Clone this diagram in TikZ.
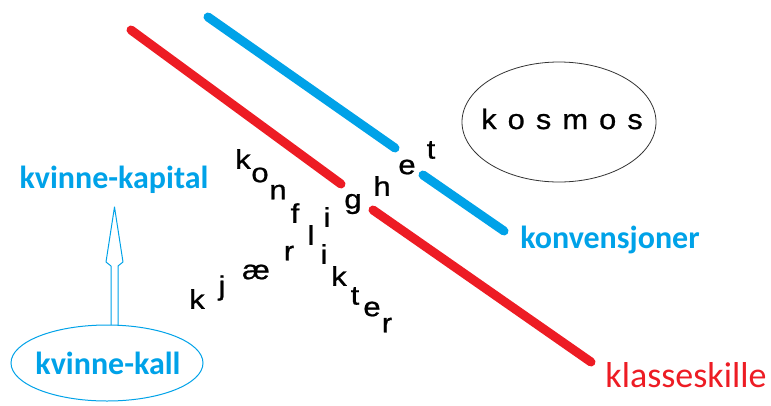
\documentclass[tikz,border=0pt]{standalone}
\usepackage{fontspec}
\setmainfont{Liberation Sans}
\newfontfamily\calibri{Carlito}
\newfontfamily\heavier[FakeBold=0.8]{Liberation Sans}
\definecolor{paintred}{HTML}{ED1C24}
\definecolor{paintblue}{HTML}{00A2E8}
\begin{document}
\begin{tikzpicture}[x=1pt,y=-1pt,
  bar/.style={line width=9pt,line cap=round},
  letter/.style={inner sep=0pt,xscale=1.15,font=\heavier\fontsize{27pt}{30pt}\selectfont},
  bluelabel/.style={inner sep=0pt,text=paintblue,font=\calibri\bfseries\fontsize{32pt}{34pt}\selectfont}]
\useasboundingbox (0,0) rectangle (771,405);

% class divide (red) and conventions (blue), each broken in two
\coordinate (r1) at (131,30);
\coordinate (r2) at (341,184);
\coordinate (r3) at (373,210);
\coordinate (r4) at (591,362);
\coordinate (b1) at (208,17);
\coordinate (b2) at (395,148);
\coordinate (b3) at (423,175);
\coordinate (b4) at (504,231);
\draw[bar,paintred] (r1) -- (r2);
\draw[bar,paintred] (r3) -- (r4);
\draw[bar,paintblue] (b1) -- (b2);
\draw[bar,paintblue] (b3) -- (b4);

% "konflikter" running down to the right
\node[letter] (c1) at (243,159) {k};
\node[letter] (c2) at (260,175) {o};
\node[letter] (c3) at (278,192) {n};
\node[letter] (c4) at (295,213) {f};
\node[letter] (c5) at (311,235) {l};
\node[letter] (c6) at (324,254) {i};
\node[letter] (c7) at (339,276) {k};
\node[letter] (c8) at (355,296) {t};
\node[letter] (c9) at (372,309) {e};
\node[letter] (c10) at (387,325) {r};

% "kjærlighet" running up to the right, sharing the l
\node[letter] (k1) at (197,299) {k};
\node[letter] (k2) at (222,288) {j};
\node[letter] (k3) at (256,272) {æ};
\node[letter] (k4) at (289,253) {r};
\node[letter] (k6) at (327,217) {i};
\node[letter] (k7) at (353,204) {g};
\node[letter] (k8) at (382,186) {h};
\node[letter] (k9) at (407,167) {e};
\node[letter] (k10) at (431,150) {t};

% kosmos
\draw[black!80,line width=0.8pt] (559,122) ellipse [x radius=97,y radius=60];
\node[inner sep=0pt,xscale=1.1,font=\heavier\addfontfeature{LetterSpace=36}\fontsize{28pt}{30pt}\selectfont] (kosmos) at (562,119) {kosmos};

% side labels
\node[bluelabel] (konv) at (610,240) {konvensjoner};
\node[inner sep=0pt,text=paintred,font=\calibri\fontsize{36pt}{38pt}\selectfont] (klasse) at (686,375) {klasseskille};

% kvinne-kall lifting into kvinne-kapital
\draw[paintblue,line width=1pt] (107,363) ellipse [x radius=96,y radius=38];
\node[bluelabel] (kall) at (108,363) {kvinne-kall};
\node[bluelabel] (kapital) at (114,180) {kvinne-kapital};
\draw[paintblue,line width=1pt,line join=round]
  (111,325) -- (111,266) -- (106,262) -- (114.5,207) -- (123,262) -- (118,266) -- (118,325);
\end{tikzpicture}
\end{document}
